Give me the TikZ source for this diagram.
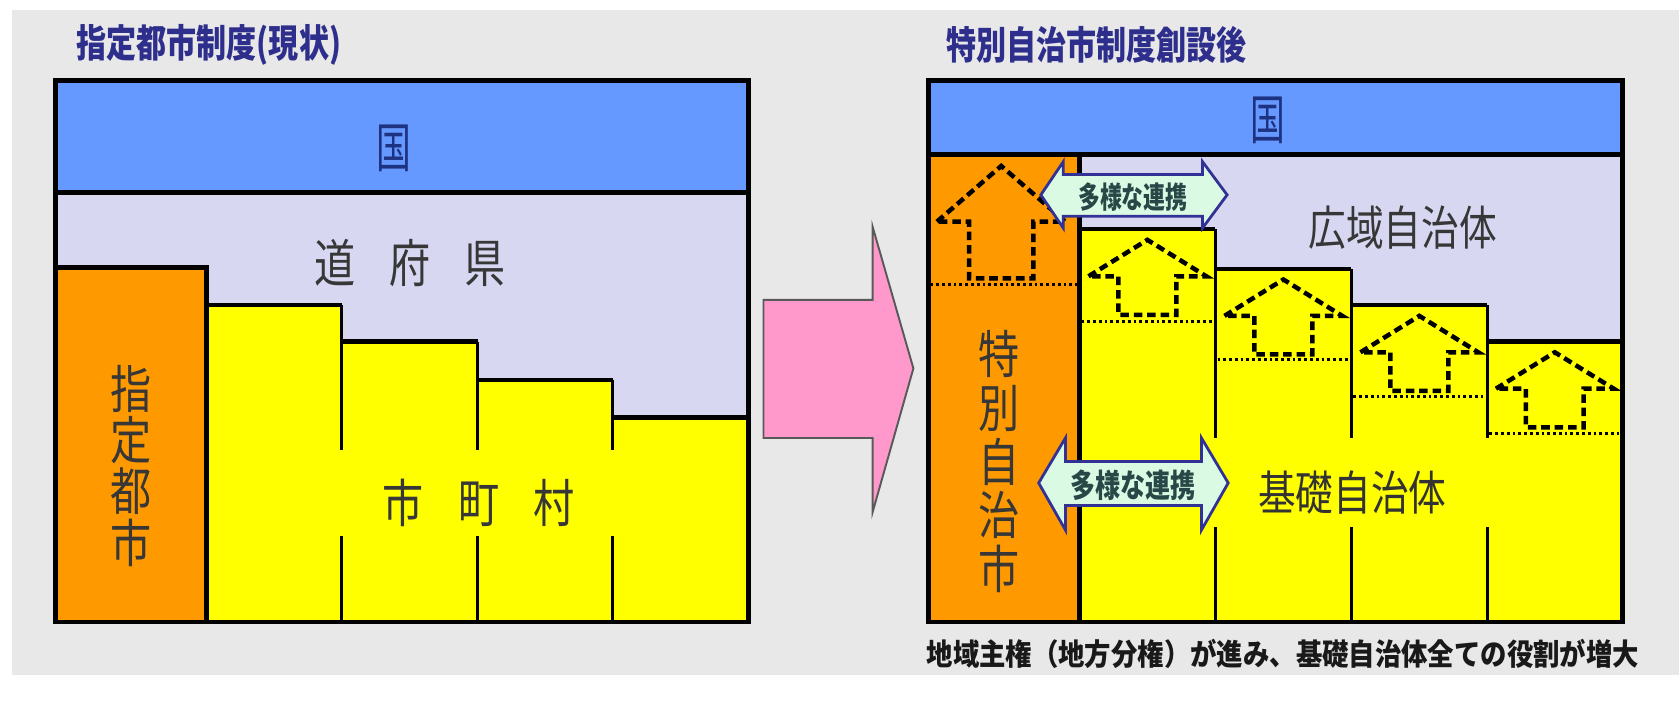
\documentclass[tikz,border=0pt]{standalone}
\usepackage{fontspec}
\setmainfont{Noto Sans CJK JP}
\definecolor{bandblue}{RGB}{102,153,255}
\definecolor{lav}{RGB}{215,215,242}
\definecolor{org}{RGB}{255,153,0}
\definecolor{yel}{RGB}{255,255,0}
\definecolor{pinkc}{RGB}{255,153,204}
\definecolor{panel}{RGB}{232,232,232}
\definecolor{navy}{RGB}{46,46,140}
\definecolor{kuni}{RGB}{30,50,130}
\definecolor{mint}{RGB}{218,250,228}
\definecolor{arrowedge}{RGB}{50,50,150}
\definecolor{linktxt}{RGB}{40,72,72}
\definecolor{labelgray}{RGB}{55,55,55}
\newcommand\narrowtxt[2]{\scalebox{#1}[1]{#2}}
\newcommand\dashup[6]{% cx, tipy, halfhead, headbase, halfshaft, shaftbottom
  \draw[dasharrow] (#1-#3,#4) -- (#1,#2) -- (#1+#3,#4) -- (#1+#5,#4) -- (#1+#5,#6) -- (#1-#5,#6) -- (#1-#5,#4) -- cycle;}
\begin{document}
\begin{tikzpicture}[x=1pt,y=-1pt,
  outline/.style={draw=black, line width=4.2pt, line join=miter},
  divider/.style={draw=black, line width=3pt},
  bandline/.style={draw=black, line width=5pt},
  dasharrow/.style={draw=black, line width=4.2pt, dash pattern=on 8pt off 4.5pt, line join=miter},
  dotline/.style={draw=black, line width=2.6pt, dash pattern=on 2.6pt off 2.8pt},
  link/.style={fill=mint, draw=arrowedge, line width=2.6pt, line join=miter},
  pinkarrow/.style={fill=pinkc, draw=black!65, line width=1.8pt, line join=miter},
  titletxt/.style={font=\fontsize{36}{36}\selectfont\bfseries, text=navy, inner sep=0pt},
  kunitxt/.style={font=\fontsize{50}{50}\selectfont, text=kuni, inner sep=0pt},
  biglabel/.style={font=\fontsize{48}{48}\selectfont, text=labelgray, inner sep=0pt, align=center},
  midlabel/.style={font=\fontsize{44}{44}\selectfont, text=labelgray, inner sep=0pt},
  linklabel/.style={font=\fontsize{28}{28}\selectfont\bfseries, text=linktxt, inner sep=0pt},
  captiontxt/.style={font=\fontsize{28}{28}\selectfont\bfseries, text=black!90, inner sep=0pt}
]
\useasboundingbox (0,0) rectangle (1568,657);
\fill[white] (0,0) rectangle (1568,657);
\fill[panel] (11,9) rectangle (1568,630);

% ---------- left diagram ----------
\fill[lav] (52,75) rectangle (699,581);
\fill[bandblue] (52,75) rectangle (699,180);
\fill[org] (52,250) rectangle (193,581);
\fill[yel] (193,285) -- (319,285) -- (319,319) -- (446,319) -- (446,355) -- (572,355) -- (572,390) -- (699,390) -- (699,581) -- (193,581) -- cycle;
\draw[outline] (52,250) -- (193,250) -- (193,581);
\draw[outline] (193,285) -- (319,285);
\draw[outline] (319,319) -- (446,319);
\draw[outline] (446,355) -- (572,355);
\draw[outline] (572,390) -- (699,390);
\draw[divider] (319,285) -- (319,420) (319,501) -- (319,581);
\draw[divider] (446,319) -- (446,420) (446,501) -- (446,581);
\draw[divider] (572,355) -- (572,420) (572,501) -- (572,581);
\draw[bandline] (52,180) -- (699,180);
\draw[outline] (52,75) rectangle (699,581);

% ---------- pink arrow ----------
\draw[pinkarrow] (713,280) -- (815,280) -- (815,212) -- (853,344) -- (815,478) -- (815,409) -- (713,409) -- cycle;

% ---------- right diagram ----------
\fill[lav] (867,75) rectangle (1515,581);
\fill[bandblue] (867,75) rectangle (1515,144);
\fill[org] (867,144) rectangle (1008,581);
\fill[yel] (1008,214) -- (1135,214) -- (1135,251) -- (1262,251) -- (1262,285) -- (1389,285) -- (1389,319) -- (1515,319) -- (1515,581) -- (1008,581) -- cycle;
\draw[outline] (1008,144) -- (1008,581);
\draw[outline] (1008,214) -- (1135,214);
\draw[outline] (1135,251) -- (1262,251);
\draw[outline] (1262,285) -- (1389,285);
\draw[outline] (1389,319) -- (1515,319);
\draw[divider] (1135,214) -- (1135,409) (1135,492) -- (1135,581);
\draw[divider] (1262,251) -- (1262,409) (1262,492) -- (1262,581);
\draw[divider] (1389,285) -- (1389,409) (1389,492) -- (1389,581);

% dotted levels
\draw[dotline] (869,266) -- (1006,266);
\draw[dotline] (1010,300) -- (1133,300);
\draw[dotline] (1137,336) -- (1260,336);
\draw[dotline] (1264,370) -- (1387,370);
\draw[dotline] (1391,405) -- (1513,405);

% dashed up arrows
\dashup{935}{155}{60}{207}{30}{260}
\dashup{1071.5}{224}{55}{258}{27}{294}
\dashup{1198.5}{261}{55}{295}{27}{331}
\dashup{1325.5}{295}{55}{329}{27}{365}
\dashup{1452}{329}{55}{363}{27}{399}

\draw[bandline] (867,144) -- (1515,144);
\draw[outline] (867,75) rectangle (1515,581);

% double arrows
\draw[link] (972,182) -- (993,151) -- (993,163) -- (1123,163) -- (1123,151) -- (1146,182) -- (1123,213) -- (1123,202) -- (993,202) -- (993,213) -- cycle;
\draw[link] (970,451) -- (995,409) -- (995,431) -- (1122,431) -- (1122,409) -- (1147,451) -- (1122,495) -- (1122,472) -- (995,472) -- (995,495) -- cycle;

% ---------- texts ----------
\node[titletxt] (ltitle) at (195,42) {\narrowtxt{0.78}{指定都市制度(現状)}};
\node[titletxt] (rtitle) at (1024,42) {\narrowtxt{0.78}{特別自治市制度創設後}};
\node[kunitxt] (lkuni) at (368,139) {\narrowtxt{0.65}{国}};
\node[kunitxt] (rkuni) at (1184,112) {\narrowtxt{0.65}{国}};
\node[biglabel] (dofuken) at (383,246) {\narrowtxt{0.8}{道\hspace{40pt}府\hspace{40pt}県}};
\node[biglabel] (shichoson) at (447,470) {\narrowtxt{0.8}{市\hspace{40pt}町\hspace{40pt}村}};
\node[biglabel] (shitei) at (122,435) {\narrowtxt{0.8}{指}\\\narrowtxt{0.8}{定}\\\narrowtxt{0.8}{都}\\\narrowtxt{0.8}{市}};
\node[biglabel, font=\fontsize{48}{50}\selectfont] (tokubetsu) at (933,431) {\narrowtxt{0.8}{特}\\\narrowtxt{0.8}{別}\\\narrowtxt{0.8}{自}\\\narrowtxt{0.8}{治}\\\narrowtxt{0.8}{市}};
\node[midlabel] (koiki) at (1310,213) {\narrowtxt{0.8}{広域自治体}};
\node[midlabel, text=black!80] (kiso) at (1263,460) {\narrowtxt{0.8}{基礎自治体}};
\node[linklabel] (link1) at (1058,184) {\narrowtxt{0.73}{多様な連携}};
\node[linklabel, font=\fontsize{30}{30}\selectfont\bfseries] (link2) at (1058,453) {\narrowtxt{0.78}{多様な連携}};
\node[captiontxt] (caption) at (1198,611) {\narrowtxt{0.88}{地域主権（地方分権）が進み、基礎自治体全ての役割が増大}};
\end{tikzpicture}
\end{document}
